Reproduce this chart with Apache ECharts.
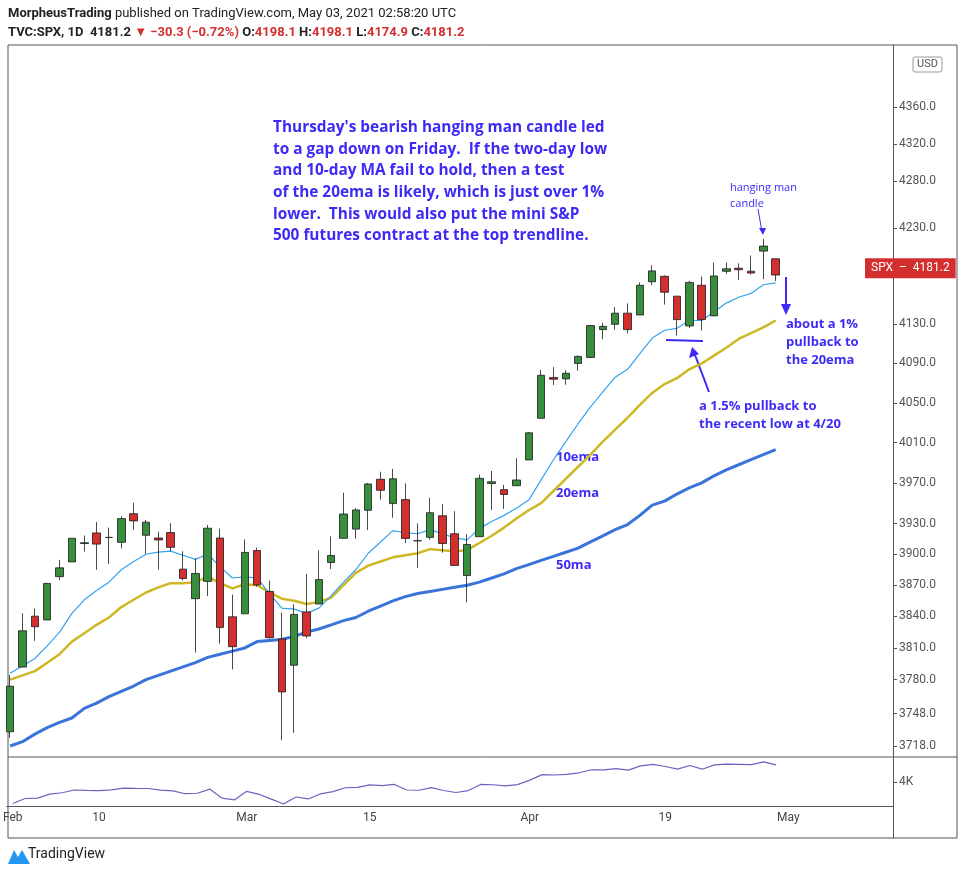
<!DOCTYPE html>
<html><head><meta charset="utf-8">
<script src="https://cdn.jsdelivr.net/npm/echarts@6/dist/echarts.min.js"></script>
<style>html,body{margin:0;padding:0;background:#fff}#c{width:963px;height:876px}</style>
</head><body><div id="c"></div>
<script>
const dates=['2021-02-01','02-02','02-03','02-04','02-05','02-08','02-09','02-10','02-11','02-12','02-16','02-17','02-18','02-19','02-22','02-23','02-24','02-25','02-26',
'03-01','03-02','03-03','03-04','03-05','03-08','03-09','03-10','03-11','03-12','03-15','03-16','03-17','03-18','03-19','03-22','03-23','03-24','03-25','03-26','03-29','03-30','03-31',
'04-01','04-05','04-06','04-07','04-08','04-09','04-12','04-13','04-14','04-15','04-16','04-19','04-20','04-21','04-22','04-23','04-26','04-27','04-28','04-29','04-30',
'05-03','05-04','05-05','05-06','05-07','05-10','05-11','05-12','05-13'];
const open=[3731.17,3791.84,3840.27,3836.66,3878.30,3892.59,3910.49,3920.78,3916.40,3911.65,3939.61,3918.50,3915.86,3921.16,3885.55,3857.07,3873.71,3915.80,3839.66,3842.51,3903.64,3863.99,3818.53,3793.58,3844.39,3851.93,3891.99,3915.54,3924.52,3942.96,3973.59,3949.57,3953.50,3913.14,3916.48,3937.60,3919.93,3879.34,3917.12,3969.31,3963.34,3967.25,3992.78,4034.44,4075.57,4074.29,4089.95,4096.11,4124.71,4130.10,4141.58,4139.76,4174.14,4179.80,4159.18,4128.42,4170.46,4138.78,4185.03,4188.25,4185.14,4206.14,4198.10];
const high=[3784.32,3843.09,3847.51,3872.42,3894.56,3915.77,3918.35,3931.50,3925.99,3937.23,3950.43,3933.61,3921.98,3930.41,3902.92,3895.98,3928.65,3925.02,3861.08,3914.50,3906.41,3874.47,3843.67,3851.69,3881.06,3903.76,3917.35,3960.27,3944.99,3970.08,3981.04,3983.87,3969.62,3930.12,3955.31,3949.13,3942.08,3919.54,3978.19,3981.83,3968.01,3994.41,4020.63,4083.42,4086.23,4083.13,4098.19,4129.48,4131.76,4148.00,4151.69,4173.49,4191.31,4180.81,4159.18,4175.02,4179.57,4194.17,4194.19,4193.35,4201.53,4218.78,4198.10];
const low=[3725.62,3791.84,3816.68,3836.66,3874.93,3892.59,3902.64,3884.94,3890.39,3905.78,3923.85,3900.43,3885.03,3903.07,3874.71,3805.59,3859.60,3814.04,3789.54,3842.51,3868.57,3818.86,3723.34,3730.19,3819.25,3851.93,3885.73,3915.54,3915.21,3923.54,3953.44,3935.74,3910.86,3886.75,3914.16,3901.57,3889.07,3853.50,3917.12,3943.25,3944.35,3966.98,3992.78,4034.44,4068.14,4068.31,4082.54,4095.51,4114.82,4124.43,4120.87,4139.76,4170.75,4150.47,4118.38,4126.35,4123.69,4138.78,4182.36,4176.22,4181.78,4176.81,4174.85];
const close=[3773.86,3826.31,3830.17,3871.74,3886.83,3915.59,3911.23,3909.88,3916.38,3934.83,3932.59,3931.33,3913.97,3906.71,3876.50,3881.37,3925.43,3829.34,3811.15,3901.82,3870.29,3819.72,3768.47,3841.94,3821.35,3875.44,3898.81,3939.34,3943.34,3968.94,3962.71,3974.12,3915.46,3913.10,3940.59,3910.52,3889.14,3909.52,3974.54,3971.09,3958.55,3972.89,4019.87,4077.91,4073.94,4079.95,4097.17,4128.80,4127.99,4141.59,4124.66,4170.42,4185.47,4163.26,4134.94,4173.42,4134.98,4180.17,4187.62,4186.72,4183.18,4211.47,4181.17];
const ema10=[3786,3793,3800,3812,3825,3843,3856,3865,3873,3885,3893,3900,3902,3903,3899,3895,3900,3888,3877,3878,3877,3862,3848,3847,3843,3848,3860,3873,3885,3901,3912,3923,3921,3920,3924,3920,3916,3914,3925,3932,3938,3945,3953,3973,3993,4011,4029,4046,4061,4076,4084,4100,4116,4124,4126,4134,4134,4143,4152,4158,4162,4171,4173];
const ema20=[3780,3784,3788,3796,3804,3816,3824,3832,3839,3849,3856,3863,3868,3872,3872,3873,3878,3872,3867,3871,3870,3863,3857,3855,3852,3854,3858,3870,3882,3889,3893,3897,3899,3901,3905,3904,3903,3904,3911,3918,3926,3935,3943,3950,3962,3974,3986,3998,4011,4023,4035,4048,4060,4069,4075,4084,4090,4098,4106,4115,4121,4127,4134];
const ma50=[3718,3722,3729,3735,3740,3744,3753,3758,3764,3769,3774,3780,3784,3788,3792,3796,3801,3804,3807,3810,3816,3817,3818,3821,3825,3828,3832,3836,3839,3845,3850,3855,3859,3862,3864,3866,3868,3870,3873,3877,3881,3886,3890,3894,3898,3902,3906,3912,3918,3924,3929,3938,3948,3952,3959,3965,3970,3977,3983,3988,3993,3998,4003];
const priceTicks=[3718,3748,3780,3810,3840,3870,3900,3930,3970,4010,4050,4090,4130,4230,4280,4320,4360];
const xLabels={0:'Feb',7:'10',19:'Mar',29:'15',42:'Apr',53:'19',63:'May'};
const lastPrice=4181.2;

const L=Math.log;
const candles=open.map((o,i)=>[L(o),L(close[i]),L(low[i]),L(high[i])]);
const blue='#3d2bf5';
const ch=echarts.init(document.getElementById('c'));
const txt=(x,y,s,o)=>({type:'text',left:x,top:y,style:Object.assign({text:s,fill:blue,font:'bold 13px "Open Sans"'},o||{})});
ch.setOption({
animation:false,
grid:[{left:4,right:70,top:45,height:712},{left:4,right:70,top:758,height:48}],
xAxis:[
 {type:'category',data:dates,gridIndex:0,boundaryGap:true,axisLine:{show:false},axisTick:{show:false},axisLabel:{show:false}},
 {type:'category',data:dates,gridIndex:1,boundaryGap:true,axisLine:{lineStyle:{color:'#555'}},
  axisTick:{alignWithLabel:true,interval:(i)=>xLabels[i]!==undefined,lineStyle:{color:'#555'}},
  axisLabel:{interval:(i)=>xLabels[i]!==undefined,formatter:(v,i)=>xLabels[i]||'',color:'#444',fontSize:12,fontFamily:'Roboto',margin:6}}
],
yAxis:[
 {type:'value',gridIndex:0,position:'right',min:L(3707.8),max:L(4427.9),splitLine:{show:false},
  axisLine:{show:true,lineStyle:{color:'#555'}},axisTick:{show:true,customValues:priceTicks.map(L),length:4,lineStyle:{color:'#555'}},
  axisLabel:{customValues:priceTicks.map(L),formatter:v=>Math.exp(v).toFixed(1),color:'#555',fontSize:12,fontFamily:'Roboto',margin:6}},
 {type:'value',gridIndex:1,position:'right',min:3747,max:4253,splitLine:{show:false},
  axisLine:{show:true,lineStyle:{color:'#555'}},axisTick:{show:true,customValues:[4000],length:4},
  axisLabel:{customValues:[4000],formatter:()=>'4K',color:'#555',fontSize:12,fontFamily:'Roboto',margin:6}}
],
series:[
 {type:'line',data:ma50.map(L),symbol:'none',lineStyle:{color:'#3a73d9',width:3},z:2},
 {type:'line',data:ema20.map(L),symbol:'none',lineStyle:{color:'#cdb824',width:2.5},z:2},
 {type:'line',data:ema10.map(L),symbol:'none',lineStyle:{color:'#33a3f0',width:1.2},z:2},
 {type:'candlestick',data:candles,barWidth:8,z:3,
  itemStyle:{color:'#388e3c',color0:'#d32f2f',borderColor:'#1a1a1a',borderColor0:'#1a1a1a',borderWidth:0.8},
  markLine:{symbol:'none',silent:true,lineStyle:{color:'rgba(0,0,0,0)'},
   data:[{yAxis:L(lastPrice),label:{position:'end',distance:-28,formatter:'SPX  \u2013  '+lastPrice.toFixed(1),backgroundColor:'#d32f2f',color:'#fff',fontSize:12,fontFamily:'Roboto',padding:[4,6]}}]}},
 {type:'line',xAxisIndex:1,yAxisIndex:1,data:close,symbol:'none',lineStyle:{color:'#6a64c0',width:1.2}}
],
graphic:[
 {type:'rect',shape:{x:8,y:45,width:949,height:793},style:{fill:'none',stroke:'#555',lineWidth:1},z:-1},
 {type:'line',shape:{x1:8,y1:757,x2:957,y2:757},style:{stroke:'#555'}},
 {type:'line',shape:{x1:893.5,y1:806,x2:893.5,y2:838},style:{stroke:'#555'}},
 {type:'rect',shape:{x:913,y:57,width:29,height:15,r:2},style:{fill:'#fff',stroke:'#999'}},
 txt(917,59,'USD',{fill:'#555',font:'11px Roboto'}),
 {type:'text',left:8,top:7,style:{text:'{b|MorpheusTrading} published on TradingView.com, May 03, 2021 02:58:20 UTC',font:'13px Roboto',fill:'#222',rich:{b:{fontWeight:'bold',fontSize:13,fontFamily:'Roboto'}}}},
 {type:'text',left:8,top:26,style:{text:'{b|TVC:SPX, 1D}  {b|4181.2} {r|\u25BC \u221230.3 (\u22120.72%)} O:{r|4198.1} H:{r|4198.1} L:{r|4174.9} C:{r|4181.2}',font:'bold 13px Roboto',fill:'#222',rich:{b:{fontWeight:'bold',fontSize:13,fontFamily:'Roboto'},r:{fill:'#d32f2f',fontWeight:'bold',fontSize:13,fontFamily:'Roboto'}}}},
 {type:'text',left:273,top:117,style:{text:"Thursday's bearish hanging man candle led\nto a gap down on Friday.  If the two-day low\nand 10-day MA fail to hold, then a test\nof the 20ema is likely, which is just over 1%\nlower.  This would also put the mini S&P\n500 futures contract at the top trendline.",fill:blue,font:'bold 15.4px "Open Sans"',lineHeight:21.6}},
 txt(730,180,'hanging man\ncandle',{font:'11px "Open Sans"',lineHeight:16}),
 {type:'line',shape:{x1:758,y1:209,x2:762,y2:232},style:{stroke:blue,lineWidth:1}},
 {type:'polygon',shape:{points:[[759,228],[766,228],[763,235]]},style:{fill:blue}},
 {type:'line',shape:{x1:786,y1:277,x2:786,y2:306},style:{stroke:blue,lineWidth:2}},
 {type:'polygon',shape:{points:[[781,304],[791,304],[786,315]]},style:{fill:blue}},
 txt(786,315,'about a 1%\npullback to\nthe 20ema',{lineHeight:18}),
 {type:'line',shape:{x1:666,y1:340,x2:703,y2:341},style:{stroke:blue,lineWidth:2}},
 {type:'line',shape:{x1:709,y1:392,x2:695,y2:355},style:{stroke:blue,lineWidth:2}},
 {type:'polygon',shape:{points:[[689,358],[699,354],[692,347]]},style:{fill:blue}},
 txt(699,397,'a 1.5% pullback to\nthe recent low at 4/20',{lineHeight:18}),
 txt(556,451,'10ema'),txt(556,487,'20ema'),txt(556,559,'50ma'),
 {type:'text',left:28,top:847,style:{text:'TradingView',font:'14px Roboto',fill:'#222'}},
 {type:'polygon',shape:{points:[[8,864],[14,850],[18,857],[22,850],[26,857],[30,864]]},style:{fill:'#2196f3'}}
]
});
</script></body></html>
